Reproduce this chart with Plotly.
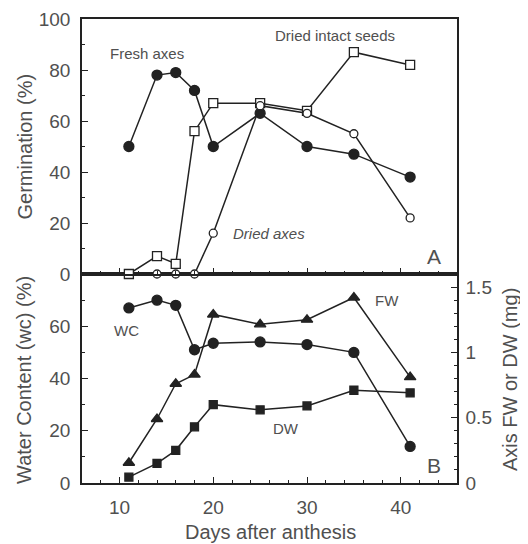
import plotly.graph_objects as go

# ---- data ----
days = [11, 14, 16, 18, 20, 25, 30, 35, 41]
fresh_axes = [50, 78, 79, 72, 50, 63, 50, 47, 38]
dried_seeds = [0, 7, 4, 56, 67, 67, 64, 87, 82]
dried_axes_days = [14, 16, 18, 20, 25, 30, 35, 41]
dried_axes = [0, 0, 0, 16, 66, 63, 55, 22]
water_content = [67, 70, 68, 51, 53.5, 54, 53, 50, 14]
fresh_weight = [0.155, 0.49, 0.76, 0.83, 1.29, 1.215, 1.25, 1.42, 0.81]
dry_weight = [0.045, 0.15, 0.25, 0.43, 0.60, 0.56, 0.59, 0.71, 0.69]

x_ticks = [10, 20, 30, 40]
a_ticks = [0, 20, 40, 60, 80, 100]
b_left_ticks = [0, 20, 40, 60]
b_right_ticks = [0, 0.5, 1, 1.5]
b_right_text = ["0", "0.5", "1", "1.5"]

LINE = "#222222"
TXT = "#505050"
FONT = "Liberation Sans"
split = 209 / 464

# page offset of the plot div (browser body margin)
OFF = 8
PL, PR, PT, PB = 82, 457, 19, 483  # plot area in page pixels

fig = go.Figure()

def line_trace(x, y, xa, ya, symbol, size, fill):
    return go.Scatter(
        x=x, y=y, xaxis=xa, yaxis=ya, mode="lines+markers",
        line=dict(color=LINE, width=1.5),
        marker=dict(symbol=symbol, size=size, color=fill,
                    line=dict(color=LINE, width=1.3)),
        cliponaxis=False, showlegend=False,
    )

# Panel A
fig.add_trace(line_trace(days, fresh_axes, "x2", "y2", "circle", 10, LINE))
fig.add_trace(line_trace(days, dried_seeds, "x2", "y2", "square", 9, "white"))
fig.add_trace(line_trace(dried_axes_days, dried_axes, "x2", "y2", "circle", 8, "white"))

# Panel B
fig.add_trace(line_trace(days, water_content, "x", "y", "circle", 10, LINE))
fig.add_trace(line_trace(days, fresh_weight, "x", "y3", "triangle-up", 10, LINE))
fig.add_trace(line_trace(days, dry_weight, "x", "y3", "square", 8, LINE))

tickfont = dict(family=FONT, size=19, color=TXT)
common_axis = dict(showline=True, linecolor=LINE, linewidth=1.5, ticks="inside",
                   tickcolor=LINE, tickwidth=1.2, showgrid=False, zeroline=False,
                   tickfont=tickfont, automargin=False)

W, H = 528 - OFF, 544 - OFF
fig.update_layout(
    width=W, height=H,
    margin=dict(l=PL - OFF, r=528 - PR, t=PT - OFF, b=544 - PB, autoexpand=False),
    paper_bgcolor="white", plot_bgcolor="white",
    font=dict(family=FONT, color=TXT),
    xaxis=dict(domain=[0, 1], anchor="y", range=[6, 46], tickvals=x_ticks,
               ticklen=6, mirror=True, ticklabelstandoff=6,
               minor=dict(dtick=2, tick0=0, ticklen=3, ticks="inside", tickcolor=LINE),
               **common_axis),
    yaxis=dict(domain=[0, split], anchor="x", range=[0, 80], tickvals=b_left_ticks,
               ticklen=6, ticklabelstandoff=6,
               minor=dict(dtick=10, tick0=0, ticklen=3, ticks="inside", tickcolor=LINE),
               **common_axis),
    yaxis3=dict(anchor="x", overlaying="y", side="right", range=[0, 1.6],
                tickvals=b_right_ticks, ticktext=b_right_text, ticklen=6,
                ticklabelstandoff=3,
                minor=dict(dtick=0.1, tick0=0, ticklen=3, ticks="inside", tickcolor=LINE),
                **common_axis),
    xaxis2=dict(domain=[0, 1], anchor="y2", range=[6, 46], tickvals=x_ticks,
                showticklabels=False, ticklen=6, mirror=True,
                minor=dict(dtick=2, tick0=0, ticklen=3, ticks="inside", tickcolor=LINE),
                **common_axis),
    yaxis2=dict(domain=[split, 1], anchor="x2", range=[0, 100], tickvals=a_ticks,
                ticklen=6, mirror=True, ticklabelstandoff=6,
                minor=dict(dtick=10, tick0=0, ticklen=3, ticks="inside", tickcolor=LINE),
                **common_axis),
)

ann = []
def label(text, x, y, xref, yref, size=15, italic=False):
    ann.append(dict(text=f"<i>{text}</i>" if italic else text, x=x, y=y,
                    xref=xref, yref=yref, showarrow=False,
                    font=dict(family=FONT, size=size, color=TXT)))

label("Fresh axes", 12.9, 86.3, "x2", "y2")
label("Dried intact seeds", 33.0, 93.7, "x2", "y2")
label("Dried axes", 25.9, 15.7, "x2", "y2", italic=True)
label("A", 43.5, 6.8, "x2", "y2", size=21)
label("WC", 10.7, 58.3, "x", "y")
label("FW", 38.5, 69.7, "x", "y")
label("DW", 27.8, 21, "x", "y")
label("B", 43.5, 6.6, "x", "y", size=21)

# axis titles, placed by page-pixel centre then converted to paper coords
titles = [
    ("Germination (%)", 24, 146.5, -90),
    ("Water Content (wc) (%)", 24, 380, -90),
    ("Axis FW or DW (mg)", 510, 380, -90),
    ("Days after anthesis", 270, 532, 0),
]
pw, ph = PR - PL, PB - PT
for text, px, py, ang in titles:
    ann.append(dict(text=text, x=(px - PL) / pw, y=(PB - py) / ph,
                    xref="paper", yref="paper", xanchor="center", yanchor="middle",
                    textangle=ang, showarrow=False,
                    font=dict(family=FONT, size=20, color=TXT)))

fig.update_layout(annotations=ann)
fig.write_html("out.html")
